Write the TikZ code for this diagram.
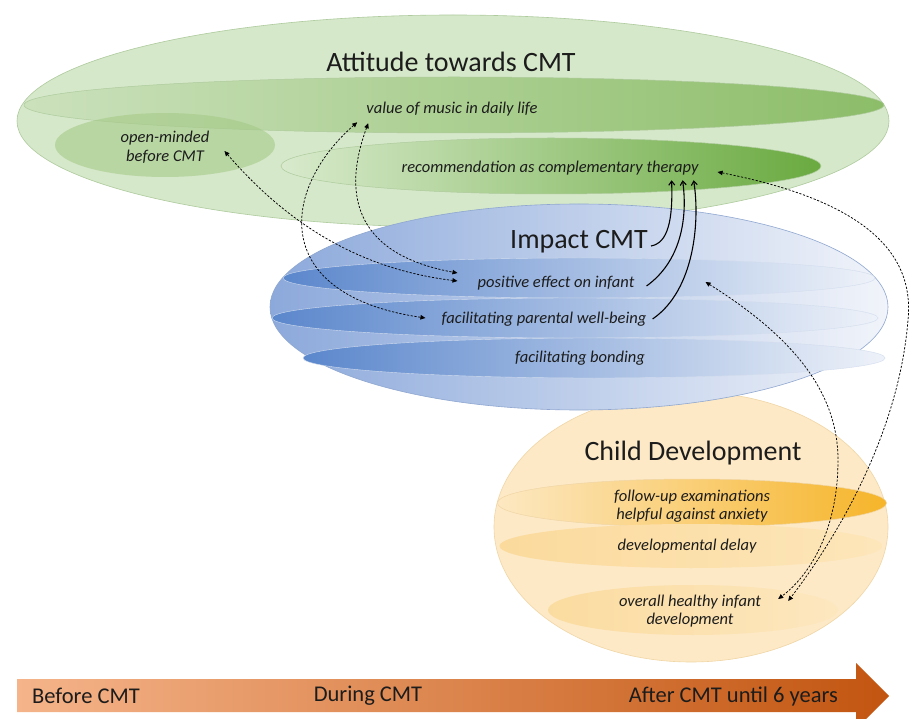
\documentclass[tikz,border=0pt]{standalone}
\usepackage{fontspec}
\setmainfont{Carlito}
\usetikzlibrary{shapes.geometric,arrows.meta}
\definecolor{gBig}{HTML}{D5E8C9}
\definecolor{gBd}{HTML}{AFCB9E}
\definecolor{valL}{HTML}{CBE1BC}
\definecolor{valR}{HTML}{8CBD68}
\definecolor{openF}{HTML}{A5CA88}
\definecolor{recL}{HTML}{D8EACC}
\definecolor{recR}{HTML}{6AAA40}
\definecolor{bL}{HTML}{8CA9DB}
\definecolor{bR}{HTML}{F1F4FA}
\definecolor{bBd}{HTML}{8FA7D0}
\definecolor{bandL}{HTML}{5B87CC}
\definecolor{bandR}{HTML}{EEF2F9}
\definecolor{bandBd}{HTML}{9DB3DA}
\definecolor{oBig}{HTML}{FDE9C6}
\definecolor{oBd}{HTML}{F0D6A6}
\definecolor{folL}{HTML}{FDE8C2}
\definecolor{folM}{HTML}{FBD88A}
\definecolor{folR}{HTML}{F6B52A}
\definecolor{devL}{HTML}{FBDA9C}
\definecolor{devR}{HTML}{FDE6BA}
\definecolor{heaL}{HTML}{FBDCA0}
\definecolor{heaR}{HTML}{FDE7BF}
\definecolor{arL}{HTML}{F5B48A}
\definecolor{arM}{HTML}{EC8F4F}
\definecolor{arR}{HTML}{C25510}
\definecolor{txt}{HTML}{1C1C1C}
\begin{document}
\begin{tikzpicture}[x=1pt,y=-1pt,
  oval/.style n args={2}{ellipse, inner sep=0pt, outer sep=0pt, minimum width=#1pt, minimum height=#2pt},
  lab/.style={font=\itshape\fontsize{16.5}{18.5}\selectfont, inner sep=0pt, align=center, text=txt},
  ttl/.style={font=\fontsize{28}{30}\selectfont, inner sep=0pt, anchor=base, text=txt},
  tl/.style={font=\fontsize{22.5}{25}\selectfont, inner sep=0pt, text=txt},
  band/.style={left color=bandL, right color=bandR, draw=bandBd!45, line width=0.4pt},
  dl/.style={dash pattern=on 2.2pt off 1.6pt, line width=0.75pt, {Triangle[length=5pt,width=4.5pt]}-{Triangle[length=5pt,width=4.5pt]}},
  sl/.style={line width=1.1pt, -{Straight Barb[length=4pt,width=6pt]}}]
\useasboundingbox (0,0) rectangle (913,719);
\fill[white] (0,0) rectangle (913,719);
% green group
\node[oval={872}{212}, fill=gBig, draw=gBd, line width=0.6pt] (attE) at (453,121) {};
\node[oval={860}{56}, left color=valL, right color=valR, draw=gBd, line width=0.5pt] (valE) at (454,105) {};
\node[oval={220}{64}, fill=openF, fill opacity=0.6] (openE) at (165,145) {};
\node[oval={540}{56}, left color=recL, right color=recR, draw=gBd, line width=0.5pt] (recE) at (551,166) {};
% orange group
\node[oval={394}{270}, fill=oBig, draw=oBd, line width=0.6pt] (chdE) at (691,527) {};
\node[oval={389}{48}, left color=folL, middle color=folM, right color=folR, draw=oBd, line width=0.5pt] (folE) at (692,503) {};
\node[oval={383}{44}, left color=devL, right color=devR] (delE) at (691,546) {};
\node[oval={290}{50}, left color=heaL, right color=heaR] (heaE) at (693,610) {};
% blue group
\node[oval={618}{206}, left color=bL, right color=bR, draw=bBd, line width=0.6pt] (impE) at (579,307) {};
\node[oval={592}{40}, band] (posE) at (579,278) {};
\node[oval={606}{40}, band] (parE) at (575,318) {};
\node[oval={582}{40}, band] (bondE) at (594,358) {};
% titles
\node[ttl] (att) at (451,72) {Attitude towards CMT};
\node[ttl] (imp) at (579,249) {Impact CMT};
\node[ttl] (chd) at (693,460) {Child Development};
% labels
\node[lab] (val) at (452,109) {value of music in daily life};
\node[lab] (open) at (165,147) {open-minded\\before CMT};
\node[lab] (rec) at (550,168) {recommendation as complementary therapy};
\node[lab] (pos) at (556,283) {positive effect on infant};
\node[lab] (par) at (544,319) {facilitating parental well-being};
\node[lab] (bond) at (580,358) {facilitating bonding};
\node[lab] (fol) at (692,506) {follow-up examinations\\helpful against anxiety};
\node[lab] (del) at (687,546) {developmental delay};
\node[lab] (hea) at (690,611) {overall healthy infant\\development};
% solid arrows
\draw[sl] ([shift={(3,-3)}]imp.base east) .. controls (668,243) and (673,220) .. ([shift={(-27,5)}]rec.south east);
\draw[sl] ([shift={(12,3)}]pos.east) .. controls (680,262) and (688,220) .. ([shift={(-16,5)}]rec.south east);
\draw[sl] ([shift={(6,0)}]par.east) .. controls (695,290) and (700,220) .. ([shift={(-5,5)}]rec.south east);
% dashed arrows
\draw[dl] ([shift={(15,4)}]open.east) .. controls (280,215) and (350,268) .. ([shift={(-20,-2)}]pos.west);
\draw[dl] ([shift={(-9,6)}]val.south west) .. controls (280,190) and (270,295) .. ([shift={(-16,-1)}]par.west);
\draw[dl] ([shift={(2,7)}]val.south west) .. controls (340,200) and (360,255) .. ([shift={(-20,-10)}]pos.west);
\draw[dl] ([shift={(19,4)}]rec.east) .. controls (860,200) and (915,250) .. (908,320) .. controls (900,420) and (850,520) .. ([shift={(27,-10)}]hea.east);
\draw[dl] ([shift={(71,-1)}]pos.east) .. controls (790,335) and (838,390) .. (838,460) .. controls (838,530) and (810,575) .. ([shift={(17,-12)}]hea.east);
% timeline arrow
\path[left color=arL, middle color=arM, right color=arR] (17,679) -- (856,679) -- (856,663) -- (889,696) -- (856,729) -- (856,712) -- (17,712) -- cycle;
\node[tl, anchor=west] (bef) at (32,696) {Before CMT};
\node[tl] (dur) at (368,696) {During CMT};
\node[tl, anchor=east] (aft) at (838,696) {After CMT until 6 years};
\end{tikzpicture}
\end{document}
